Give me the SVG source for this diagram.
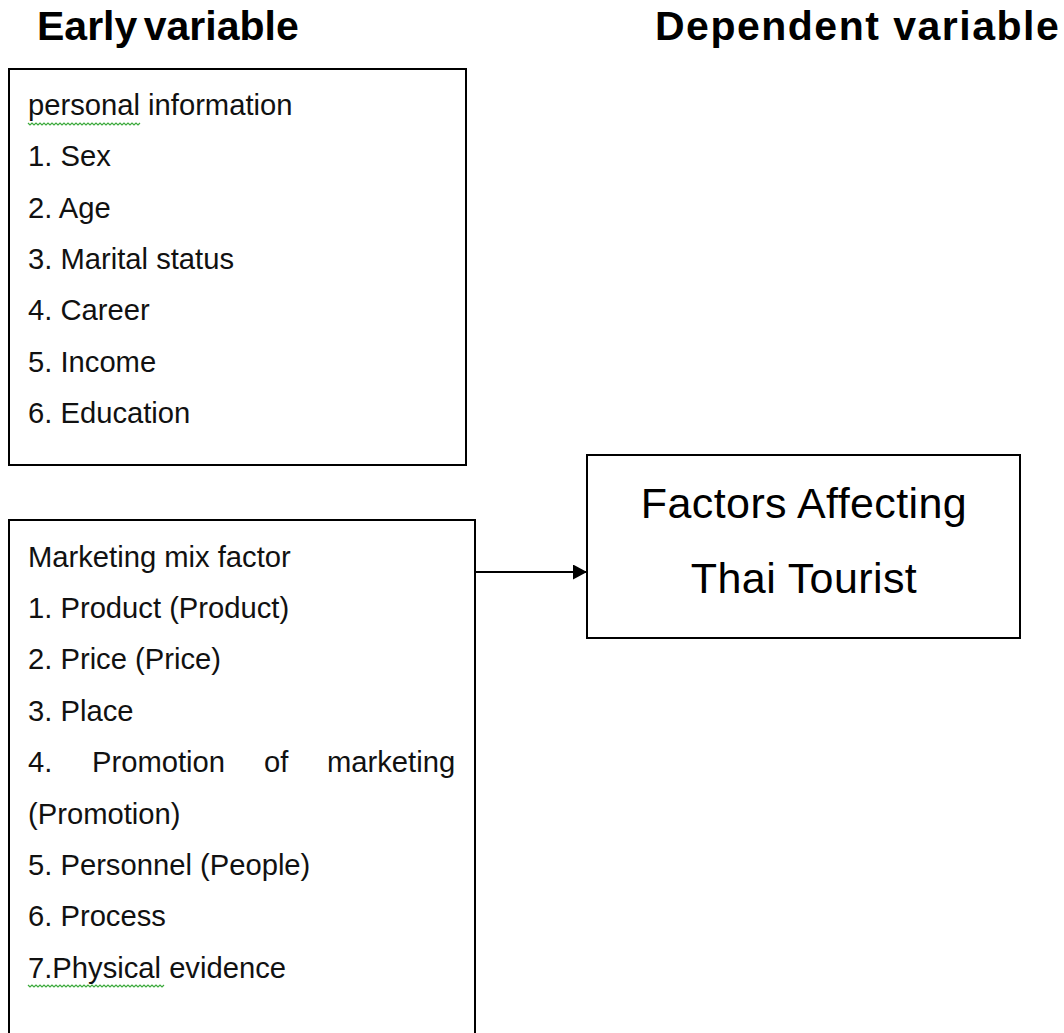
<svg xmlns="http://www.w3.org/2000/svg" width="1064" height="1033" viewBox="0 0 1064 1033">
  <defs>
    <marker id="arrow" viewBox="0 0 14 15" refX="14" refY="7.5" markerWidth="14" markerHeight="15" markerUnits="userSpaceOnUse" orient="auto">
      <path d="M0,0 L14,7.5 L0,15 z" fill="#000"/>
    </marker>
    <style>
      .title { font-family: "Liberation Sans", Arial, sans-serif; font-weight: bold; font-size: 41px; fill: #000; }
      .item { font-family: "Liberation Sans", Arial, sans-serif; font-size: 29.2px; fill: #111; }
      .big { font-family: "Liberation Sans", Arial, sans-serif; font-size: 43px; fill: #000; text-anchor: middle; letter-spacing: 0.4px; }
      .box { fill: #fff; stroke: #000; stroke-width: 2; }
      .wave { fill: none; stroke: #3caa3c; stroke-width: 1.2; }
      .link { fill: none; stroke: #000; stroke-width: 2; }
    </style>
  </defs>
  <rect width="1064" height="1033" fill="#fff"/>

  <!-- column headings -->
  <text class="title" x="37" y="40" word-spacing="-5">Early variable</text>
  <text class="title" x="655" y="40" letter-spacing="1.5">Dependent variable</text>

  <!-- personal information box -->
  <g id="personal-info">
    <rect class="box" x="9" y="69" width="457" height="396"/>
    <text class="item" x="28" y="115">personal information</text>
    <polyline class="wave" points="28,123 30,125 32,123 34,125 36,123 38,125 40,123 42,125 44,123 46,125 48,123 50,125 52,123 54,125 56,123 58,125 60,123 62,125 64,123 66,125 68,123 70,125 72,123 74,125 76,123 78,125 80,123 82,125 84,123 86,125 88,123 90,125 92,123 94,125 96,123 98,125 100,123 102,125 104,123 106,125 108,123 110,125 112,123 114,125 116,123 118,125 120,123 122,125 124,123 126,125 128,123 130,125 132,123 134,125 136,123 138,125 140,123"/>
    <text class="item" x="28" y="166.3">1. Sex</text>
    <text class="item" x="28" y="217.6">2. Age</text>
    <text class="item" x="28" y="268.9">3. Marital status</text>
    <text class="item" x="28" y="320.2">4. Career</text>
    <text class="item" x="28" y="371.5">5. Income</text>
    <text class="item" x="28" y="422.8">6. Education</text>
  </g>

  <!-- marketing mix box (runs past the bottom edge) -->
  <g id="marketing-mix">
    <rect class="box" x="9" y="520" width="466" height="540"/>
    <text class="item" x="28" y="566.5">Marketing mix factor</text>
    <text class="item" x="28" y="617.9">1. Product (Product)</text>
    <text class="item" x="28" y="669.3">2. Price (Price)</text>
    <text class="item" x="28" y="720.7">3. Place</text>
    <text class="item" y="772.1"><tspan x="28">4.</tspan><tspan x="92">Promotion</tspan><tspan x="264">of</tspan><tspan x="327">marketing</tspan></text>
    <text class="item" x="28" y="823.5">(Promotion)</text>
    <text class="item" x="28" y="874.9">5. Personnel (People)</text>
    <text class="item" x="28" y="926.3">6. Process</text>
    <text class="item" x="28" y="977.7">7.Physical evidence</text>
    <polyline class="wave" points="28,985 30,987 32,985 34,987 36,985 38,987 40,985 42,987 44,985 46,987 48,985 50,987 52,985 54,987 56,985 58,987 60,985 62,987 64,985 66,987 68,985 70,987 72,985 74,987 76,985 78,987 80,985 82,987 84,985 86,987 88,985 90,987 92,985 94,987 96,985 98,987 100,985 102,987 104,985 106,987 108,985 110,987 112,985 114,987 116,985 118,987 120,985 122,987 124,985 126,987 128,985 130,987 132,985 134,987 136,985 138,987 140,985 142,987 144,985 146,987 148,985 150,987 152,985 154,987 156,985 158,987 160,985 162,987 164,985"/>
  </g>

  <!-- outcome box -->
  <g id="thai-tourist">
    <rect class="box" x="587" y="455" width="433" height="183"/>
    <text class="big" x="804" y="518">Factors Affecting</text>
    <text class="big" x="804" y="593">Thai Tourist</text>
  </g>

  <g id="connectors">
    <line class="link" x1="475" y1="572" x2="587" y2="572" marker-end="url(#arrow)"/>
  </g>
</svg>
